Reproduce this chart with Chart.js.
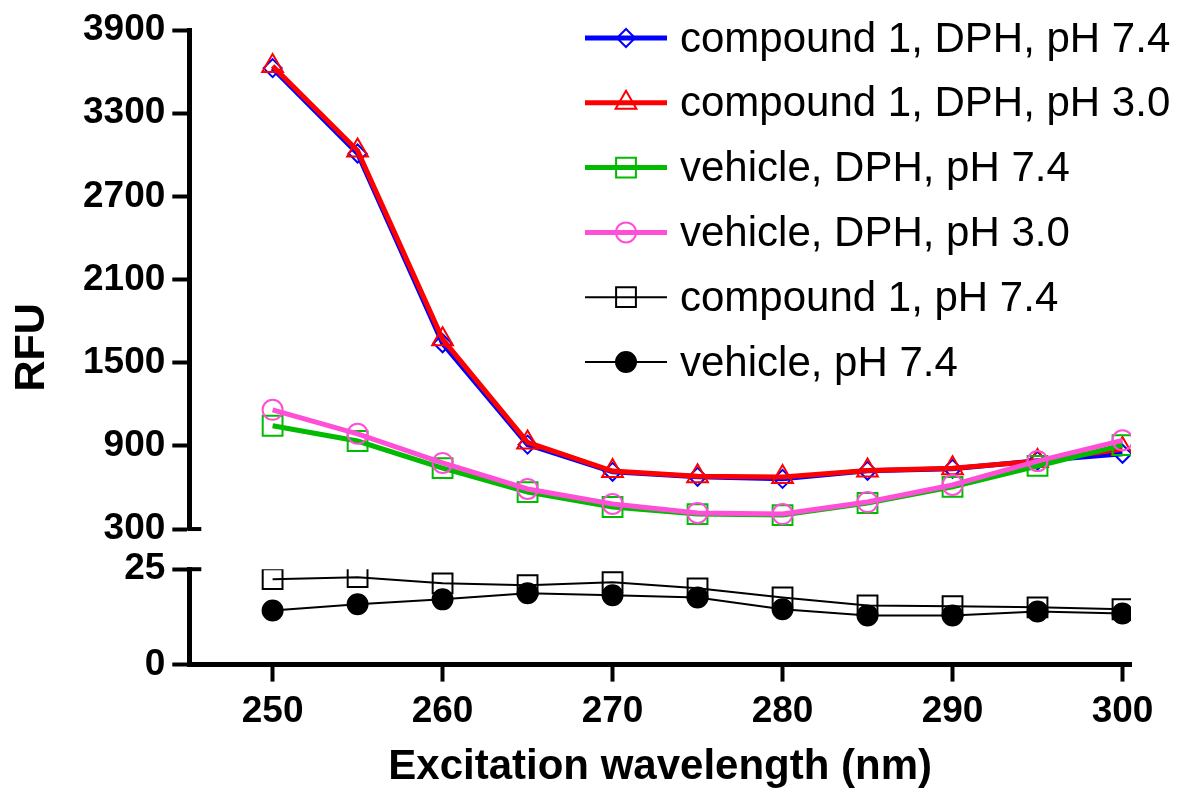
<!DOCTYPE html>
<html>
<head>
<meta charset="utf-8">
<script src="https://cdn.jsdelivr.net/npm/chart.js@4.4.1/dist/chart.umd.min.js"></script>
<style>
  html, body { margin: 0; padding: 0; background: #fff; }
  #wrap { width: 1191px; height: 788px; }
</style>
</head>
<body>
<div id="wrap"><canvas id="rfuChart"></canvas></div>
<script>
// excitation scan, RFU
const wavelengths = [250, 255, 260, 265, 270, 275, 280, 285, 290, 295, 300];
const cmpdDphPh74 = [3625, 3009, 1640, 909, 713, 677, 662, 720, 735, 793, 843];
const cmpdDphPh30 = [3640, 3030, 1670, 925, 718, 680, 675, 722, 738, 790, 878];
const vehDphPh74 = [1045, 935, 740, 567, 459, 408, 401, 488, 604, 755, 905];
const vehDphPh30 = [1160, 987, 777, 589, 481, 416, 408, 495, 618, 790, 940];
const cmpdPh74 = [22.4, 22.9, 21.3, 20.8, 21.6, 20.0, 17.6, 15.5, 15.3, 15.0, 14.5];
const vehPh74 = [14.2, 15.8, 17.1, 18.7, 18.2, 17.6, 14.5, 12.9, 12.9, 13.9, 13.4];

const seriesLabels = [
    'compound 1, DPH, pH 7.4',
    'compound 1, DPH, pH 3.0',
    'vehicle, DPH, pH 7.4',
    'vehicle, DPH, pH 3.0',
    'compound 1, pH 7.4',
    'vehicle, pH 7.4'
];

const xTickValues = [250, 260, 270, 280, 290, 300];
const upperTickValues = [300, 900, 1500, 2100, 2700, 3300, 3900];
const lowerTickValues = [0, 25];

const FONT = '"Liberation Sans", Arial, Helvetica, sans-serif';
Chart.defaults.font.family = FONT;
Chart.defaults.color = '#000';

function pts(vals) {
    return wavelengths.map((w, i) => ({ x: w, y: vals[i] }));
}

function series(label, vals, color, style, radius, width, axis, order, fill) {
    return {
        label: label,
        data: pts(vals),
        yAxisID: axis,
        borderColor: color,
        borderWidth: width,
        pointStyle: style,
        pointRadius: radius,
        pointHoverRadius: radius,
        pointBorderWidth: 2,
        pointBorderColor: color,
        pointBackgroundColor: fill || 'rgba(0,0,0,0)',
        tension: 0,
        order: order
    };
}

function drawMarker(ctx, style, x, y, r, fill, stroke, bw) {
    ctx.beginPath();
    if (style === 'circle') {
        ctx.arc(x, y, r, 0, Math.PI * 2);
    } else if (style === 'rect') {
        const h = r * Math.SQRT1_2;
        ctx.rect(x - h, y - h, 2 * h, 2 * h);
    } else if (style === 'rectRot') {
        ctx.moveTo(x - r, y);
        ctx.lineTo(x, y - r);
        ctx.lineTo(x + r, y);
        ctx.lineTo(x, y + r);
        ctx.closePath();
    } else if (style === 'triangle') {
        let a = 0;
        ctx.moveTo(x + Math.sin(a) * r, y - Math.cos(a) * r);
        a += Math.PI * 2 / 3;
        ctx.lineTo(x + Math.sin(a) * r, y - Math.cos(a) * r);
        a += Math.PI * 2 / 3;
        ctx.lineTo(x + Math.sin(a) * r, y - Math.cos(a) * r);
        ctx.closePath();
    }
    ctx.fillStyle = fill;
    ctx.fill();
    ctx.lineWidth = bw;
    ctx.strokeStyle = stroke;
    ctx.stroke();
}

// legend with line + marker samples, sitting inside the plot at top right
const lineLegend = {
    id: 'lineLegend',
    afterDraw(chart) {
        const ctx = chart.ctx;
        chart.data.datasets.forEach((ds, i) => {
            const y = 38 + i * 64.8;
            ctx.save();
            ctx.strokeStyle = ds.borderColor;
            ctx.lineWidth = ds.borderWidth;
            ctx.beginPath();
            ctx.moveTo(585, y);
            ctx.lineTo(667, y);
            ctx.stroke();
            drawMarker(ctx, ds.pointStyle, 626, y, ds.pointRadius, ds.pointBackgroundColor, ds.borderColor, ds.pointBorderWidth);
            ctx.fillStyle = '#000';
            ctx.font = '42px ' + FONT;
            ctx.textBaseline = 'middle';
            ctx.fillText(ds.label, 680, y + 2);
            ctx.restore();
        });
    }
};

// little caps on both sides of the axis break
const axisCaps = {
    id: 'axisCaps',
    afterDraw(chart) {
        const ctx = chart.ctx;
        const hi = chart.scales.yHigh;
        const lo = chart.scales.yLow;
        const ax = hi.right;
        ctx.save();
        ctx.strokeStyle = '#000';
        ctx.lineWidth = 4;
        [[hi, upperTickValues[0]], [lo, lowerTickValues[lowerTickValues.length - 1]]].forEach(([s, v]) => {
            const py = s.getPixelForValue(v);
            ctx.beginPath();
            ctx.moveTo(ax - 2, py);
            ctx.lineTo(ax + 12, py);
            ctx.stroke();
        });
        ctx.restore();
    }
};

const axisGrid = { display: true, drawOnChartArea: false, drawTicks: true, tickLength: 17, tickWidth: 4, tickColor: '#000', color: '#000' };
const axisBorder = { display: true, color: '#000', width: 5 };
const tickFont = { size: 37, weight: 'bold' };

const ctx = document.getElementById('rfuChart').getContext('2d');
const rfuChart = new Chart(ctx, {
    type: 'line',
    data: {
        datasets: [
            series(seriesLabels[0], cmpdDphPh74, '#0000ff', 'rectRot', 9, 5, 'yHigh', 6),
            series(seriesLabels[1], cmpdDphPh30, '#ff0000', 'triangle', 12, 5, 'yHigh', 5),
            series(seriesLabels[2], vehDphPh74, '#00bb00', 'rect', 14, 5, 'yHigh', 4),
            series(seriesLabels[3], vehDphPh30, '#ff4fd8', 'circle', 10, 5, 'yHigh', 3),
            series(seriesLabels[4], cmpdPh74, '#000000', 'rect', 14, 2, 'yLow', 2),
            series(seriesLabels[5], vehPh74, '#000000', 'circle', 10, 2, 'yLow', 1, '#000000')
        ]
    },
    options: {
        responsive: true,
        maintainAspectRatio: false,
        animation: false,
        layout: { padding: { top: 30, right: 60, bottom: 0, left: 0 } },
        plugins: {
            legend: { display: false },
            tooltip: { enabled: false }
        },
        scales: {
            x: {
                type: 'linear',
                min: 245.1,
                max: 300.5,
                afterBuildTicks: s => { s.ticks = xTickValues.map(v => ({ value: v })); },
                border: axisBorder,
                grid: axisGrid,
                ticks: { font: tickFont, padding: 8, maxRotation: 0, callback: v => String(v) },
                title: {
                    display: true,
                    text: 'Excitation wavelength (nm)',
                    font: { size: 42, weight: 'bold', lineHeight: 1 },
                    padding: { top: 4, bottom: 0 }
                }
            },
            yTitle: {
                type: 'linear',
                position: 'left',
                weight: 1,
                grid: { display: false, drawTicks: false },
                border: { display: false },
                ticks: { display: false },
                title: {
                    display: true,
                    text: 'RFU',
                    font: { size: 43, weight: 'bold', lineHeight: 1 },
                    padding: { top: 11, bottom: 22 }
                }
            },
            yLow: {
                type: 'linear',
                position: 'left',
                stack: 'rfu',
                stackWeight: 95,
                min: 0,
                max: 25,
                afterBuildTicks: s => { s.ticks = lowerTickValues.map(v => ({ value: v })); },
                border: axisBorder,
                grid: axisGrid,
                ticks: { font: tickFont, padding: 7, callback: v => String(v) }
            },
            yGap: {
                type: 'linear',
                position: 'left',
                stack: 'rfu',
                stackWeight: 40,
                grid: { display: false, drawTicks: false },
                border: { display: false },
                ticks: { display: false }
            },
            yHigh: {
                type: 'linear',
                position: 'left',
                stack: 'rfu',
                stackWeight: 497,
                min: 300,
                max: 3900,
                afterBuildTicks: s => { s.ticks = upperTickValues.map(v => ({ value: v })); },
                border: axisBorder,
                grid: axisGrid,
                ticks: { font: tickFont, padding: 7, callback: v => String(v) }
            }
        }
    },
    plugins: [lineLegend, axisCaps]
});
</script>
</body>
</html>
